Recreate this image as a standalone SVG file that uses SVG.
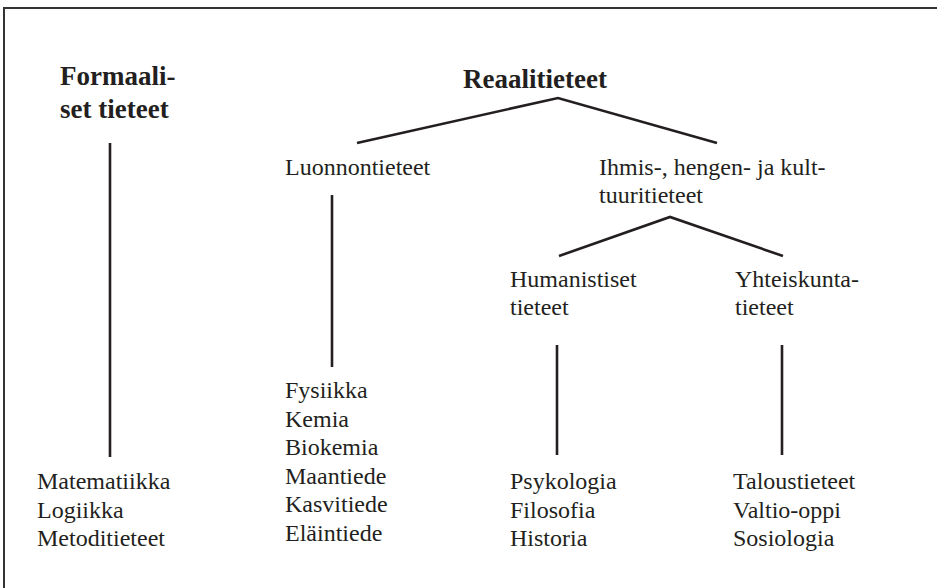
<svg xmlns="http://www.w3.org/2000/svg" width="937" height="588" viewBox="0 0 937 588">
  <style>
    .t { font-family: "Liberation Serif", "Times New Roman", serif; font-size: 24px; fill: #231f20; }
    .b { font-family: "Liberation Serif", "Times New Roman", serif; font-size: 27px; font-weight: bold; fill: #231f20; }
    .ln { stroke: #231f20; stroke-width: 2.6; fill: none; stroke-linecap: butt; }
    .frame { stroke: #333; stroke-width: 2; fill: none; }
  </style>
  <rect width="937" height="588" fill="#ffffff"/>
  <!-- frame: top and left edges -->
  <path class="frame" d="M4,588 V8 H937"/>

  <g id="connectors">
    <line class="ln" x1="110" y1="143" x2="110" y2="457"/>
    <polyline class="ln" points="357,143 558,98 717,143"/>
    <line class="ln" x1="332" y1="195" x2="332" y2="367"/>
    <polyline class="ln" points="559,256 670,217 783,256"/>
    <line class="ln" x1="557" y1="345" x2="557" y2="455"/>
    <line class="ln" x1="782" y1="345" x2="782" y2="455"/>
  </g>

  <g id="formaaliset">
    <text class="b" x="60" y="85">Formaali-</text>
    <text class="b" x="60" y="118">set tieteet</text>
  </g>
  <g id="formaaliset-list">
    <text class="t" x="37" y="489">Matematiikka</text>
    <text class="t" x="37" y="517.5">Logiikka</text>
    <text class="t" x="37" y="546">Metoditieteet</text>
  </g>

  <g id="reaalitieteet">
    <text class="b" x="463" y="88">Reaalitieteet</text>
  </g>

  <g id="luonnontieteet">
    <text class="t" x="285" y="175">Luonnontieteet</text>
  </g>
  <g id="luonnontieteet-list">
    <text class="t" x="285" y="398">Fysiikka</text>
    <text class="t" x="285" y="426.5">Kemia</text>
    <text class="t" x="285" y="455">Biokemia</text>
    <text class="t" x="285" y="483.5">Maantiede</text>
    <text class="t" x="285" y="512">Kasvitiede</text>
    <text class="t" x="285" y="540.5">Eläintiede</text>
  </g>

  <g id="ihmistieteet">
    <text class="t" x="599" y="175">Ihmis-, hengen- ja kult-</text>
    <text class="t" x="599" y="203">tuuritieteet</text>
  </g>

  <g id="humanistiset">
    <text class="t" x="510" y="287">Humanistiset</text>
    <text class="t" x="510" y="315">tieteet</text>
  </g>
  <g id="humanistiset-list">
    <text class="t" x="510" y="489">Psykologia</text>
    <text class="t" x="510" y="517.5">Filosofia</text>
    <text class="t" x="510" y="546">Historia</text>
  </g>

  <g id="yhteiskuntatieteet">
    <text class="t" x="735" y="287">Yhteiskunta-</text>
    <text class="t" x="735" y="315">tieteet</text>
  </g>
  <g id="yhteiskuntatieteet-list">
    <text class="t" x="733" y="489">Taloustieteet</text>
    <text class="t" x="733" y="517.5">Valtio-oppi</text>
    <text class="t" x="733" y="546">Sosiologia</text>
  </g>
</svg>
